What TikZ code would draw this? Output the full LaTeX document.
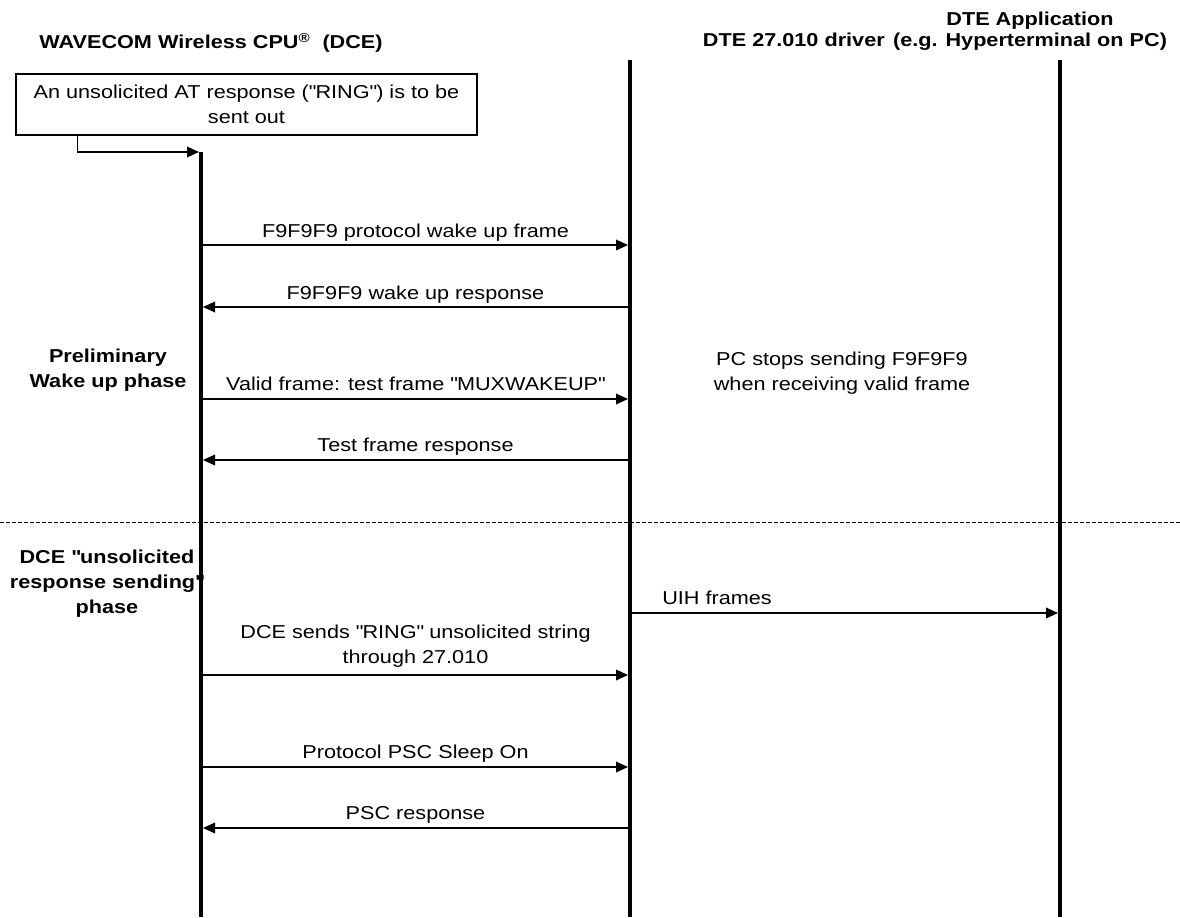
\documentclass[tikz,border=0pt]{standalone}
\usepackage{fontspec}
\setmainfont[FakeStretch=1.16]{Liberation Sans}
\usetikzlibrary{arrows.meta}
\newcommand{\qq}{\textquotedbl}
\begin{document}
\begin{tikzpicture}[x=0.75pt,y=-0.75pt,
  life/.style={line width=3pt},
  msg/.style={line width=1pt,-{Triangle[length=9pt,width=8pt]},shorten >=1.5pt,shorten <=1.5pt},
  lbl/.style={font=\fontsize{14}{18.75}\selectfont,inner sep=0pt,anchor=base,align=center},
  phase/.style={font=\fontsize{14}{18.75}\selectfont\bfseries,inner sep=0pt,anchor=base,align=center},
  hdr/.style={font=\fontsize{14}{16.5}\selectfont\bfseries,inner sep=0pt,anchor=base,align=center},
  sep/.style={line width=0.75pt,dash pattern=on 3pt off 1.5pt},
  boxed/.style={draw,line width=1pt,font=\fontsize{14}{18.75}\selectfont,align=center,inner sep=0pt,
    minimum width=345.75pt,minimum height=45.75pt}
]
\useasboundingbox (0,0) rectangle (1180,917);

% headers
\node[hdr] (hA) at (211,49) {WAVECOM Wireless CPU\textsuperscript{\textregistered}\ \ (DCE)};
\node[hdr,anchor=base east] (hB) at (885,47) {DTE 27.010 driver};
\node[hdr] (hC) at (1030,47) {DTE Application\\(e.g. Hyperterminal on PC)};

% starting box
\node[boxed] (box) at (246.5,104.5) {An unsolicited AT response (\qq RING\qq) is to be\\sent out};

% phase labels and note
\node[phase] (p1) at (108,387) {Preliminary\\Wake up phase};
\node[phase] (p2) at (107,613) {DCE \qq unsolicited\\response sending\qq\\phase};
\node[lbl] (note) at (842,390) {PC stops sending F9F9F9\\when receiving valid frame};

% separator
\coordinate (d1) at (0,522);
\coordinate (d2) at (1180,522);
\draw[sep] (d1) -- (d2);

% lifelines
\coordinate (Atop) at (201,152); \coordinate (Abot) at (201,917);
\coordinate (Btop) at (630,60);  \coordinate (Bbot) at (630,917);
\coordinate (Ctop) at (1060,60); \coordinate (Cbot) at (1060,917);
\draw[life] (Atop) -- (Abot);
\draw[life] (Btop) -- (Bbot);
\draw[life] (Ctop) -- (Cbot);

% box to lifeline
\draw[msg,shorten <=0pt] ([xshift=46.5pt]box.south west) |- (Atop);

% message anchors
\coordinate (a1) at (201,245); \coordinate (b1) at (630,245);
\coordinate (a2) at (201,307); \coordinate (b2) at (630,307);
\coordinate (a3) at (201,399); \coordinate (b3) at (630,399);
\coordinate (a4) at (201,460); \coordinate (b4) at (630,460);
\coordinate (b5) at (630,613); \coordinate (c5) at (1060,613);
\coordinate (a6) at (201,675); \coordinate (b6) at (630,675);
\coordinate (a7) at (201,767); \coordinate (b7) at (630,767);
\coordinate (a8) at (201,828); \coordinate (b8) at (630,828);

\draw[msg] (a1) -- (b1);
\draw[msg] (b2) -- (a2);
\draw[msg] (a3) -- (b3);
\draw[msg] (b4) -- (a4);
\draw[msg] (b5) -- (c5);
\draw[msg] (a6) -- (b6);
\draw[msg] (a7) -- (b7);
\draw[msg] (b8) -- (a8);

% message labels
\node[lbl] (t1) at (415.5,237) {F9F9F9 protocol wake up frame};
\node[lbl] (t2) at (415.5,299) {F9F9F9 wake up response};
\node[lbl] (t3) at (415.5,390) {Valid frame: test frame \qq MUXWAKEUP\qq};
\node[lbl] (t4) at (415.5,451) {Test frame response};
\node[lbl,anchor=base west] (t5) at (662,604) {UIH frames};
\node[lbl] (t6) at (415.5,663) {DCE sends \qq RING\qq\ unsolicited string\\through 27.010};
\node[lbl] (t7) at (415.5,758) {Protocol PSC Sleep On};
\node[lbl] (t8) at (415.5,819) {PSC response};
\end{tikzpicture}
\end{document}
